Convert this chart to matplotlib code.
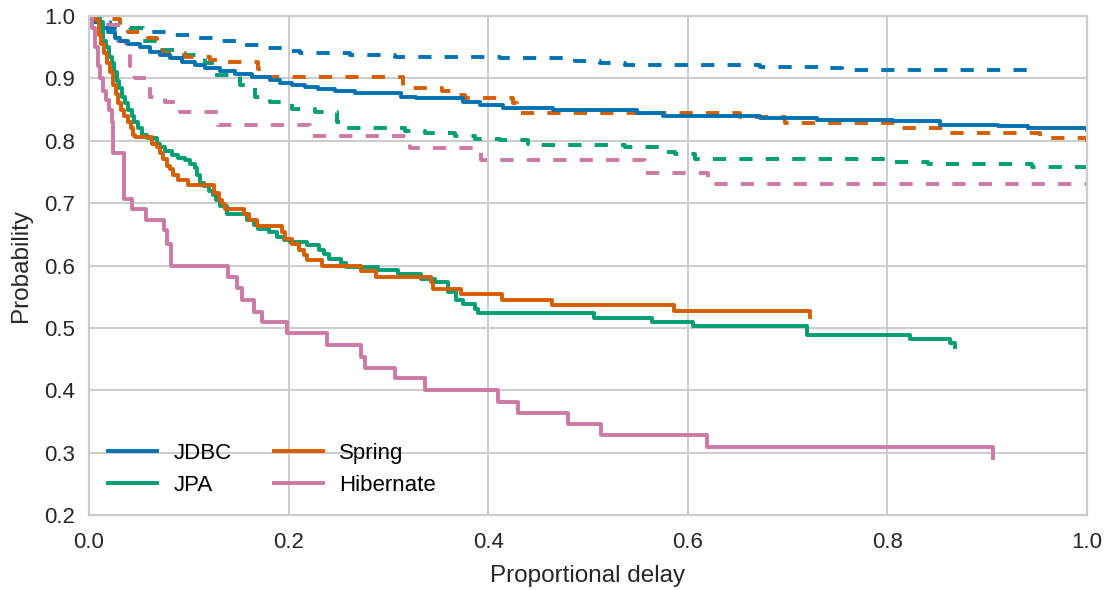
import matplotlib
matplotlib.use("Agg")
import matplotlib.pyplot as plt

# ---- data: step curves (x = proportional delay, y = probability) ----
jdbc_x = [0.0, 0.003, 0.013, 0.019, 0.026, 0.031, 0.039, 0.051, 0.061, 0.071, 0.081, 0.093, 0.106,
          0.116, 0.131, 0.146, 0.163, 0.181, 0.191, 0.203, 0.216, 0.229, 0.246, 0.267, 0.292, 0.313,
          0.328, 0.375, 0.392, 0.415, 0.465, 0.549, 0.575, 0.672, 0.729, 0.806, 0.853, 0.911, 0.941, 1.0]
jdbc_y = [1.0, 0.99, 0.98, 0.975, 0.965, 0.96, 0.955, 0.95, 0.943, 0.938, 0.933, 0.927, 0.922,
          0.917, 0.912, 0.907, 0.902, 0.898, 0.893, 0.889, 0.886, 0.883, 0.879, 0.877, 0.876, 0.870,
          0.868, 0.862, 0.857, 0.853, 0.850, 0.845, 0.839, 0.837, 0.834, 0.832, 0.826, 0.824, 0.821, 0.817]

jpa_x = [0.0, 0.011, 0.014, 0.017, 0.020, 0.023, 0.025, 0.028, 0.030, 0.033, 0.036, 0.039, 0.043,
         0.045, 0.049, 0.053, 0.058, 0.068, 0.071, 0.076, 0.083, 0.089, 0.096, 0.101, 0.106, 0.108,
         0.111, 0.115, 0.120, 0.124, 0.127, 0.131, 0.138, 0.158, 0.165, 0.169, 0.180, 0.188, 0.195,
         0.201, 0.218, 0.230, 0.235, 0.240, 0.253, 0.258, 0.290, 0.310, 0.333, 0.347, 0.360, 0.368,
         0.375, 0.387, 0.390, 0.506, 0.564, 0.605, 0.719, 0.823, 0.863, 0.868]
jpa_y = [1.0, 0.99, 0.96, 0.95, 0.935, 0.925, 0.91, 0.895, 0.885, 0.87, 0.86, 0.85, 0.84,
         0.83, 0.82, 0.81, 0.805, 0.795, 0.79, 0.783, 0.777, 0.773, 0.769, 0.762, 0.757, 0.745,
         0.733, 0.728, 0.72, 0.713, 0.705, 0.695, 0.683, 0.673, 0.665, 0.658, 0.654, 0.646, 0.641,
         0.638, 0.633, 0.625, 0.619, 0.611, 0.604, 0.598, 0.592, 0.587, 0.579, 0.574, 0.558, 0.545,
         0.539, 0.531, 0.524, 0.516, 0.510, 0.503, 0.489, 0.482, 0.475, 0.469]

spring_x = [0.0, 0.007, 0.010, 0.012, 0.015, 0.018, 0.021, 0.024, 0.027, 0.029, 0.032, 0.035, 0.039,
            0.042, 0.044, 0.046, 0.063, 0.068, 0.071, 0.074, 0.078, 0.081, 0.084, 0.089, 0.099,
            0.125, 0.130, 0.133, 0.136, 0.155, 0.160, 0.168, 0.193, 0.196, 0.203, 0.210, 0.215,
            0.218, 0.233, 0.273, 0.288, 0.343, 0.345, 0.373, 0.414, 0.464, 0.586, 0.722]
spring_y = [1.0, 0.993, 0.97, 0.955, 0.94, 0.925, 0.91, 0.89, 0.875, 0.86, 0.85, 0.84, 0.83,
            0.82, 0.81, 0.806, 0.795, 0.79, 0.78, 0.77, 0.76, 0.755, 0.745, 0.737, 0.729,
            0.716, 0.705, 0.699, 0.690, 0.683, 0.673, 0.663, 0.654, 0.643, 0.635, 0.625, 0.617,
            0.609, 0.599, 0.591, 0.582, 0.574, 0.563, 0.555, 0.545, 0.536, 0.527, 0.518]

hib_x = [0.0, 0.003, 0.006, 0.009, 0.011, 0.014, 0.017, 0.020, 0.023, 0.024, 0.035, 0.043, 0.057,
         0.075, 0.078, 0.082, 0.139, 0.148, 0.153, 0.165, 0.173, 0.198, 0.238, 0.273, 0.277, 0.307,
         0.337, 0.410, 0.430, 0.480, 0.513, 0.619, 0.906]
hib_y = [1.0, 0.98, 0.95, 0.92, 0.90, 0.88, 0.865, 0.85, 0.83, 0.78, 0.707, 0.69, 0.673,
         0.657, 0.635, 0.60, 0.582, 0.564, 0.544, 0.526, 0.51, 0.491, 0.472, 0.454, 0.436, 0.419,
         0.40, 0.381, 0.363, 0.346, 0.328, 0.309, 0.291]

jdbc_d_x = [0.0, 0.006, 0.021, 0.061, 0.081, 0.106, 0.126, 0.151, 0.173, 0.196, 0.211, 0.262, 0.307,
            0.412, 0.437, 0.487, 0.512, 0.537, 0.672, 0.733, 0.755, 0.952]
jdbc_d_y = [1.0, 0.99, 0.98, 0.975, 0.97, 0.965, 0.96, 0.953, 0.948, 0.944, 0.941, 0.937, 0.935,
            0.933, 0.932, 0.928, 0.924, 0.921, 0.919, 0.917, 0.914, 0.914]

jpa_d_x = [0.0, 0.011, 0.041, 0.054, 0.071, 0.091, 0.116, 0.123, 0.151, 0.166, 0.181, 0.203, 0.226,
           0.248, 0.257, 0.317, 0.337, 0.367, 0.387, 0.412, 0.440, 0.452, 0.537, 0.572, 0.587,
           0.607, 0.808, 0.841, 0.945, 1.0]
jpa_d_y = [1.0, 0.985, 0.98, 0.96, 0.945, 0.937, 0.925, 0.906, 0.89, 0.87, 0.862, 0.851, 0.846,
           0.83, 0.82, 0.815, 0.812, 0.807, 0.803, 0.802, 0.795, 0.793, 0.79, 0.782, 0.779,
           0.77, 0.766, 0.762, 0.758, 0.737]

spring_d_x = [0.0, 0.011, 0.031, 0.039, 0.059, 0.068, 0.073, 0.096, 0.121, 0.128, 0.169, 0.174,
              0.315, 0.354, 0.365, 0.377, 0.425, 0.429, 0.652, 0.697, 0.808, 0.858, 0.953, 1.0]
spring_d_y = [1.0, 0.995, 0.985, 0.975, 0.965, 0.955, 0.94, 0.935, 0.93, 0.926, 0.915, 0.902,
              0.885, 0.88, 0.873, 0.869, 0.86, 0.845, 0.838, 0.829, 0.821, 0.813, 0.805, 0.785]

hib_d_x = [0.0, 0.014, 0.029, 0.037, 0.041, 0.046, 0.061, 0.076, 0.091, 0.129, 0.221, 0.322,
           0.393, 0.557, 0.620, 1.0]
hib_d_y = [1.0, 0.985, 0.96, 0.94, 0.92, 0.90, 0.87, 0.862, 0.846, 0.826, 0.807, 0.789,
           0.769, 0.749, 0.730, 0.730]

names = ["JDBC", "JPA", "Spring", "Hibernate"]
colors = ["#0072B2", "#009E73", "#D55E00", "#CC79A7"]

plt.rcParams["font.family"] = ["Liberation Sans", "DejaVu Sans"]

fig = plt.figure(figsize=(11.09, 5.90), dpi=100)
ax = fig.add_axes([89 / 1109, 1 - 515 / 590, (1087 - 89) / 1109, (515 - 16) / 590])

lw = 2.8
solid = [(jdbc_x, jdbc_y), (jpa_x, jpa_y), (spring_x, spring_y), (hib_x, hib_y)]
dashed = [(jdbc_d_x, jdbc_d_y), (jpa_d_x, jpa_d_y), (spring_d_x, spring_d_y), (hib_d_x, hib_d_y)]

for (dx, dy), c in zip(dashed, colors):
    ax.plot(dx, dy, drawstyle="steps-post", color=c, lw=lw, linestyle=(0, (3.4, 3.4)))
handles = []
for (sx, sy), c, n in zip(solid, colors, names):
    h, = ax.plot(sx, sy, drawstyle="steps-post", color=c, lw=lw, label=n)
    handles.append(h)

ax.set_xlim(0, 1.0)
ax.set_ylim(0.2, 1.0)
ax.set_xticks([0.0, 0.2, 0.4, 0.6, 0.8, 1.0])
ax.set_yticks([0.2, 0.3, 0.4, 0.5, 0.6, 0.7, 0.8, 0.9, 1.0])
ax.grid(True, color="#cccccc", lw=1.4)
ax.set_axisbelow(True)
for s in ax.spines.values():
    s.set_color("#cccccc")
    s.set_linewidth(1.6)
ax.tick_params(length=0, labelsize=16, labelcolor="#262626")
ax.tick_params(axis="x", pad=12)
ax.tick_params(axis="y", pad=10)
ax.set_xlabel("Proportional delay", fontsize=17.5, color="#262626", labelpad=9)
ax.set_ylabel("Probability", fontsize=17.5, color="#262626", labelpad=9)

ax.legend(handles=handles, loc="lower left", ncol=2, frameon=False, fontsize=16,
          handlelength=2.2, columnspacing=1.9, labelspacing=0.49, borderaxespad=0.45,
          handletextpad=0.75)

fig.savefig("out.png", dpi=100)
